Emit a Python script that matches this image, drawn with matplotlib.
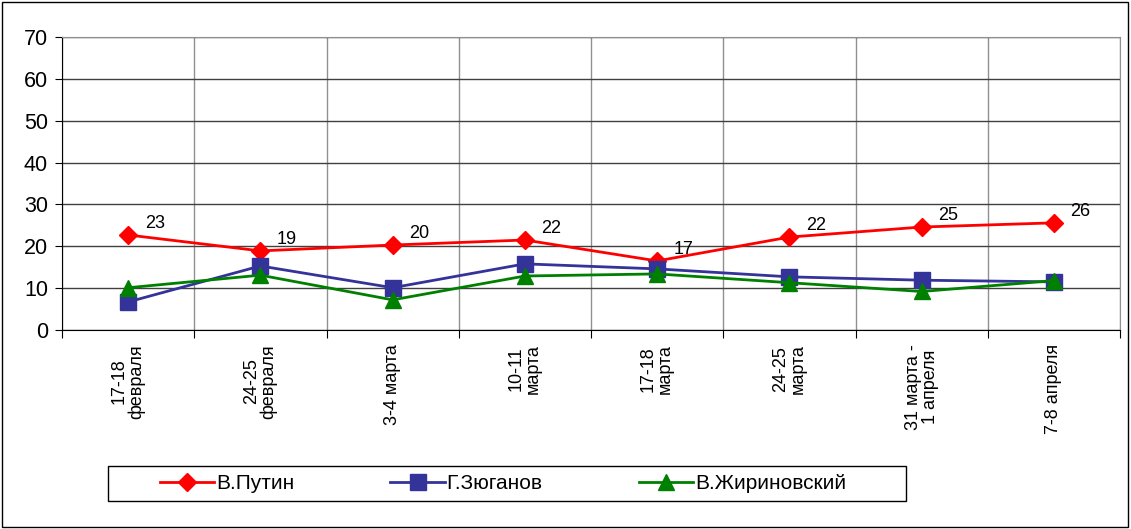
import matplotlib.pyplot as plt
import numpy as np
from matplotlib.patches import Rectangle

plt.rcParams['font.family'] = ['Liberation Sans', 'DejaVu Sans']

# survey dates
dates = ["17-18\nфевраля", "24-25\nфевраля", "3-4 марта", "10-11\nмарта",
         "17-18\nмарта", "24-25\nмарта", "31 марта -\n1 апреля", "7-8 апреля"]
putin = [22.7, 18.9, 20.3, 21.5, 16.5, 22.2, 24.6, 25.6]
putin_labels = ["23", "19", "20", "22", "17", "22", "25", "26"]
zyuganov = [6.7, 15.3, 10.1, 15.8, 14.6, 12.7, 11.9, 11.5]
zhirinovsky = [10.1, 13.1, 7.2, 12.9, 13.4, 11.3, 9.2, 11.8]

fig = plt.figure(figsize=(11.31, 5.29), dpi=100)
ax = fig.add_axes([62/1131, 1-330/529, (1120-62)/1131, (330-37)/529])

x = np.arange(len(dates))
ax.plot(x, putin, color='#ff0000', lw=2, marker='D', ms=9, label='В.Путин', zorder=3)
ax.plot(x, zyuganov, color='#333399', lw=2, marker='s', ms=11, label='Г.Зюганов', zorder=4)
ax.plot(x, zhirinovsky, color='#008000', lw=2, marker='^', ms=11, label='В.Жириновский', zorder=5)

for xi, yi, t in zip(x, putin, putin_labels):
    ax.annotate(t, (xi, yi), xytext=(12, 2), textcoords='offset points',
                fontsize=13, ha='left', va='bottom')

ax.set_xlim(-0.5, len(dates) - 0.5)
ax.set_ylim(0, 70)
ax.set_yticks(range(0, 71, 10))
ax.tick_params(axis='y', labelsize=15.5, length=5, direction='out', pad=5)

# category boundaries as major ticks, labels on minor ticks
ax.set_xticks(np.arange(-0.5, len(dates), 1.0))
ax.set_xticklabels([])
ax.set_xticks(x, minor=True)
ax.set_xticklabels(dates, minor=True, rotation=90, fontsize=13,
                   multialignment='center', linespacing=1.0)
ax.tick_params(axis='x', which='major', length=6, direction='out')
ax.tick_params(axis='x', which='minor', length=0, pad=10)

ax.grid(axis='y', color='#404040', lw=1)
ax.grid(axis='x', which='major', color='#909090', lw=1)
ax.set_axisbelow(True)
for s in ['top', 'right']:
    ax.spines[s].set_color('#909090')

# legend box drawn separately, entries centred inside
box_l, box_b, box_w, box_h = 108/1131, 1-501/529, 798/1131, 35/529
fig.patches.append(Rectangle((box_l, box_b), box_w, box_h, transform=fig.transFigure,
                             fill=False, edgecolor='black', lw=1))
fig.legend(loc='center', bbox_to_anchor=(box_l + box_w/2 - 4/1131, box_b + box_h/2),
           ncol=3, fontsize=15, frameon=False, handlelength=2.6,
           handletextpad=0.1, columnspacing=4.6, borderpad=0)

fig.patches.append(Rectangle((2/1131, 2/529), 1126/1131, 525/529, transform=fig.transFigure,
                             fill=False, edgecolor='black', lw=1))

fig.savefig("out.png", dpi=100)
